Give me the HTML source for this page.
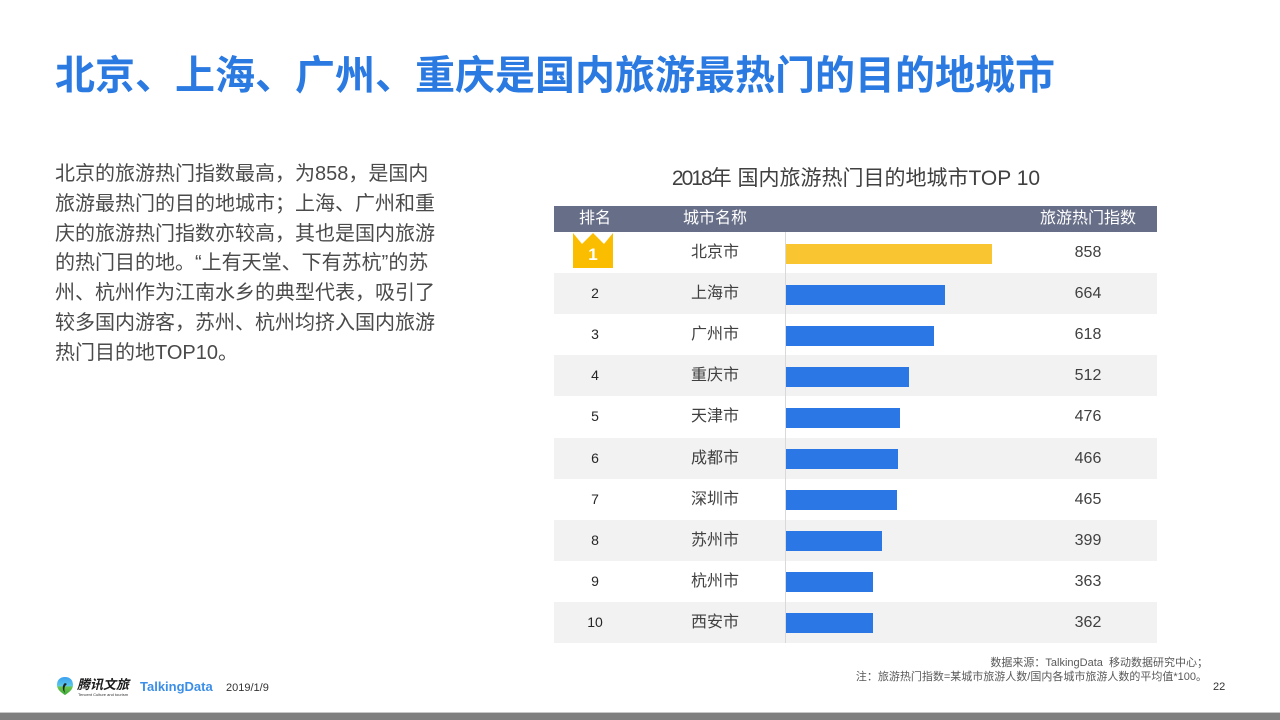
<!DOCTYPE html>
<html>
<head>
<meta charset="utf-8">
<style>
  html,body{margin:0;padding:0;}
  body{width:1280px;height:720px;position:relative;overflow:hidden;background:#fff;
    font-family:"Liberation Sans","Noto Sans CJK SC",sans-serif;}
  .abs{position:absolute;white-space:nowrap;}
  .title{left:55px;top:56px;font-size:40px;line-height:40px;font-weight:bold;color:#2a7ae2;}
  .para{left:55px;top:160px;font-size:20px;line-height:29.8px;letter-spacing:0;color:#4a4a4a;}
  .ctitle{left:556px;width:600px;top:167px;text-align:center;font-size:21px;line-height:24px;color:#404040;}
  .hdr{left:554px;top:206px;width:603px;height:26px;background:#676e87;}
  .ht{top:206px;height:26px;line-height:26px;font-size:16px;color:#fff;text-align:center;}
  .row{left:554px;width:603px;height:41.1px;}
  .gray{background:#f2f2f2;}
  .cell{height:41px;line-height:41px;text-align:center;color:#404040;}
  .rank{width:80px;left:555px;font-size:14px;color:#262626;}
  .city{width:120px;left:655px;font-size:16px;}
  .val{width:120px;left:1028px;font-size:16px;}
  .bar{left:786px;height:20px;background:#2b77e5;}
  .axis{left:785px;top:232px;width:1px;height:411px;background:#d9d9d9;}
  .foot{font-size:11px;color:#595959;text-align:right;right:72px;line-height:14px;}
</style>
</head>
<body>

<div class="abs title">北京、上海、广州、重庆是国内旅游最热门的目的地城市</div>

<div class="abs para">北京的旅游热门指数最高，为858，是国内<br>旅游最热门的目的地城市；上海、广州和重<br>庆的旅游热门指数亦较高，其也是国内旅游<br>的热门目的地。“上有天堂、下有苏杭”的苏<br>州、杭州作为江南水乡的典型代表，吸引了<br>较多国内游客，苏州、杭州均挤入国内旅游<br>热门目的地TOP10。</div>

<div class="abs ctitle"><span style="letter-spacing:-2px">2018</span>年 国内旅游热门目的地城市TOP 10</div>

<div class="abs hdr"></div>
<div class="abs ht" style="left:555px;width:80px;">排名</div>
<div class="abs ht" style="left:655px;width:120px;">城市名称</div>
<div class="abs ht" style="left:1028px;width:120px;">旅游热门指数</div>

<!-- row backgrounds -->
<div class="abs row gray" style="top:273.1px"></div>
<div class="abs row gray" style="top:355.3px"></div>
<div class="abs row gray" style="top:437.5px"></div>
<div class="abs row gray" style="top:519.7px"></div>
<div class="abs row gray" style="top:601.9px"></div>

<div class="abs axis"></div>

<!-- crown -->
<svg class="abs" style="left:0;top:0" width="1280" height="720">
  <polygon points="573,233 582,244 593,233 604,244 613,233 613,268 573,268" fill="#fbbd00"/>
  <text x="593" y="260" text-anchor="middle" font-family="Liberation Sans, sans-serif" font-weight="bold" font-size="17" fill="#fff">1</text>
</svg>

<!-- ranks -->
<div class="abs cell rank" style="top:273.1px">2</div>
<div class="abs cell rank" style="top:314.2px">3</div>
<div class="abs cell rank" style="top:355.3px">4</div>
<div class="abs cell rank" style="top:396.4px">5</div>
<div class="abs cell rank" style="top:437.5px">6</div>
<div class="abs cell rank" style="top:478.6px">7</div>
<div class="abs cell rank" style="top:519.7px">8</div>
<div class="abs cell rank" style="top:560.8px">9</div>
<div class="abs cell rank" style="top:601.9px">10</div>

<!-- cities -->
<div class="abs cell city" style="top:232px">北京市</div>
<div class="abs cell city" style="top:273.1px">上海市</div>
<div class="abs cell city" style="top:314.2px">广州市</div>
<div class="abs cell city" style="top:355.3px">重庆市</div>
<div class="abs cell city" style="top:396.4px">天津市</div>
<div class="abs cell city" style="top:437.5px">成都市</div>
<div class="abs cell city" style="top:478.6px">深圳市</div>
<div class="abs cell city" style="top:519.7px">苏州市</div>
<div class="abs cell city" style="top:560.8px">杭州市</div>
<div class="abs cell city" style="top:601.9px">西安市</div>

<!-- bars -->
<div class="abs bar" style="top:244px;width:206px;background:#f9c631;"></div>
<div class="abs bar" style="top:285px;width:159px;"></div>
<div class="abs bar" style="top:326px;width:148px;"></div>
<div class="abs bar" style="top:367px;width:123px;"></div>
<div class="abs bar" style="top:408px;width:114px;"></div>
<div class="abs bar" style="top:449px;width:112px;"></div>
<div class="abs bar" style="top:490px;width:111px;"></div>
<div class="abs bar" style="top:531px;width:96px;"></div>
<div class="abs bar" style="top:572px;width:87px;"></div>
<div class="abs bar" style="top:613px;width:87px;"></div>

<!-- values -->
<div class="abs cell val" style="top:232px">858</div>
<div class="abs cell val" style="top:273.1px">664</div>
<div class="abs cell val" style="top:314.2px">618</div>
<div class="abs cell val" style="top:355.3px">512</div>
<div class="abs cell val" style="top:396.4px">476</div>
<div class="abs cell val" style="top:437.5px">466</div>
<div class="abs cell val" style="top:478.6px">465</div>
<div class="abs cell val" style="top:519.7px">399</div>
<div class="abs cell val" style="top:560.8px">363</div>
<div class="abs cell val" style="top:601.9px">362</div>

<!-- footnotes -->
<div class="abs foot" style="top:656px;">数据来源：TalkingData&nbsp;&nbsp;移动数据研究中心；</div>
<div class="abs foot" style="top:670px;right:73px;">注：旅游热门指数=某城市旅游人数/国内各城市旅游人数的平均值*100。</div>
<div class="abs" style="left:1213px;top:680px;font-size:11px;line-height:14px;color:#333;">22</div>

<!-- footer logos -->
<svg class="abs" style="left:56px;top:676px" width="18" height="20">
  <defs>
    <linearGradient id="lg" x1="0" y1="0" x2="0" y2="1">
      <stop offset="0" stop-color="#3aa0f0"/>
      <stop offset="0.5" stop-color="#5cc8e8"/>
      <stop offset="0.55" stop-color="#6cc84a"/>
      <stop offset="1" stop-color="#3aa83a"/>
    </linearGradient>
  </defs>
  <path d="M9,1 C14,1 17,4 17,9 C17,14 12,17 9,19 C6,17 1,14 1,9 C1,4 4,1 9,1 Z" fill="url(#lg)"/>
  <path d="M9,7 C6,9 6,14 9,17 C8,14 8,10 11,8 Z" fill="#222"/>
</svg>
<div class="abs" style="left:77px;top:677px;font-size:13px;line-height:15px;font-weight:bold;color:#1a1a1a;font-style:italic;">腾讯文旅</div>
<div class="abs" style="left:78px;top:692px;font-size:4px;line-height:5px;color:#333;">Tencent Culture and tourism</div>
<div class="abs" style="left:140px;top:679px;font-size:13px;line-height:16px;font-weight:bold;color:#3b8ee8;">TalkingData</div>
<div class="abs" style="left:226px;top:681px;font-size:11px;line-height:14px;color:#333;">2019/1/9</div>

<!-- bottom bar -->
<div class="abs" style="left:0;top:712px;width:1280px;height:1px;background:#c8c8c8;"></div>
<div class="abs" style="left:0;top:713px;width:1280px;height:7px;background:#7f7f7f;"></div>

</body>
</html>
